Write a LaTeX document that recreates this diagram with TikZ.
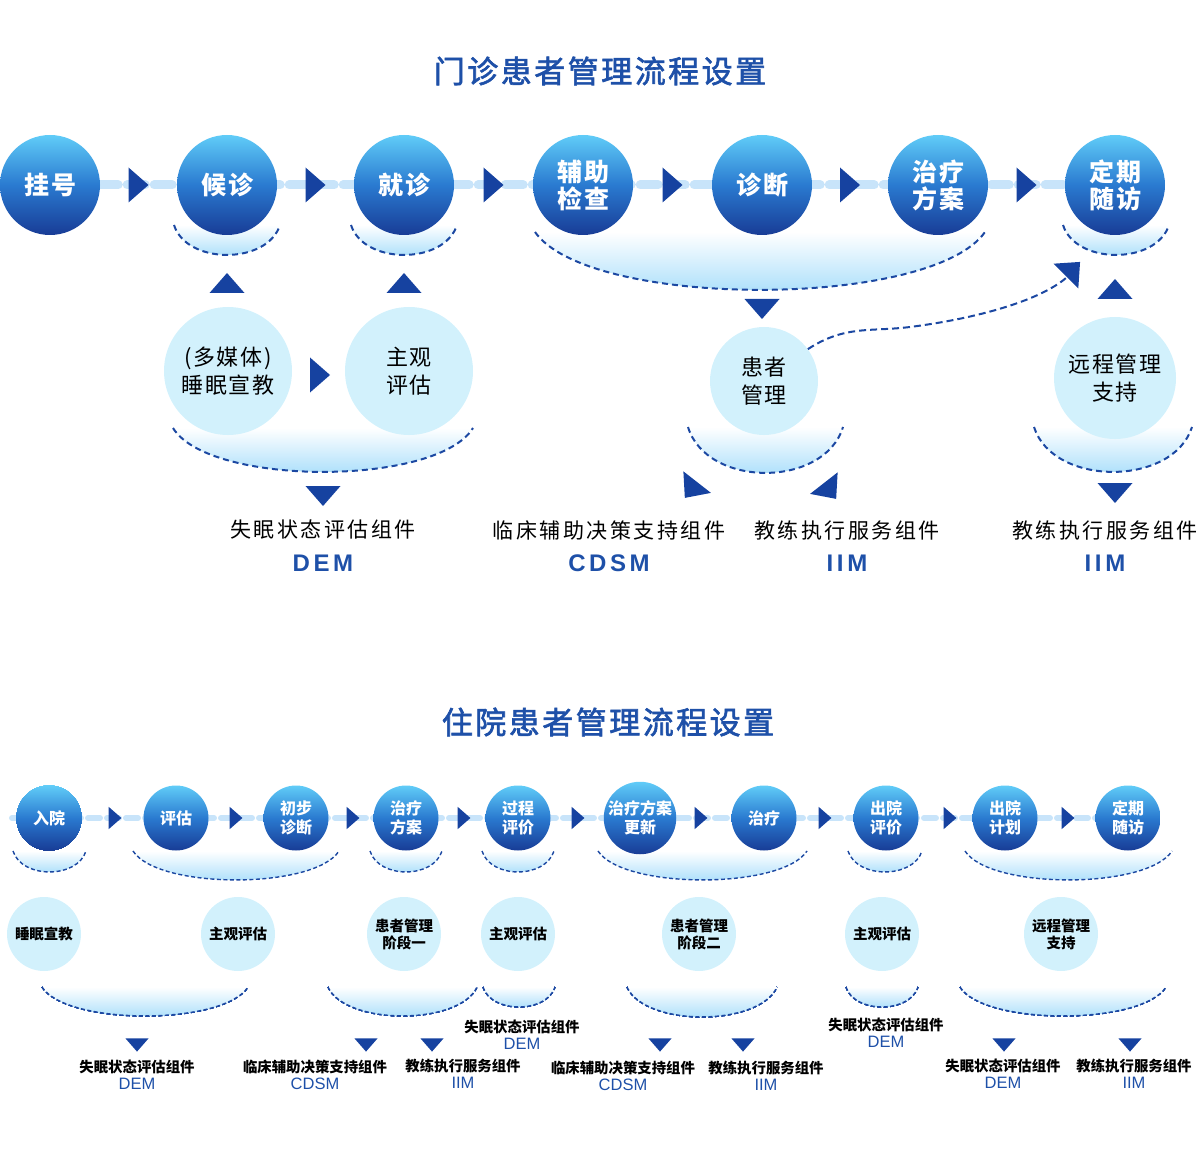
\documentclass[tikz,border=0pt]{standalone}
\usepackage{fontspec}
\setmainfont{Noto Sans CJK SC}
\newfontfamily\latinsans{Liberation Sans}
\usetikzlibrary{calc,backgrounds}
\definecolor{deepblue}{RGB}{22,66,160}
\definecolor{titleblue}{RGB}{30,80,168}
\definecolor{balltop}{RGB}{96,204,248}
\definecolor{ballmid}{RGB}{42,122,208}
\definecolor{ballbot}{RGB}{24,60,150}
\definecolor{palecyan}{RGB}{210,241,252}
\definecolor{bowlblue}{RGB}{150,215,250}
\definecolor{linkblue}{RGB}{200,228,250}
\definecolor{dashblue}{RGB}{28,72,162}
% bowl: [line style]{x left}{x right}{y top}{depth}
\newcommand\bowl[5][bowlline]{%
  \shade[top color=white,bottom color=bowlblue] (#2,#4) .. controls ({#2+0.12*(#3-#2)},{#4+1.33*#5}) and ({#3-0.12*(#3-#2)},{#4+1.33*#5}) .. (#3,#4) -- cycle;
  \draw[#1] (#2,#4) .. controls ({#2+0.12*(#3-#2)},{#4+1.33*#5}) and ({#3-0.12*(#3-#2)},{#4+1.33*#5}) .. (#3,#4);}
\begin{document}
\begin{tikzpicture}[x=1pt,y=-1pt,line cap=butt,line join=miter]
	\tikzset{
		ball/.style={circle,inner sep=0pt,minimum size=100pt,top color=balltop,bottom color=ballbot,middle color=ballmid,text=white,align=center,font=\fontsize{25pt}{27pt}\selectfont\bfseries\addfontfeature{LetterSpace=8}},
		minball/.style={ball,minimum size=65pt,font=\fontsize{16pt}{19pt}\selectfont\bfseries},
		bubble/.style={circle,inner sep=0pt,fill=palecyan,text=black,align=center,font=\fontsize{22pt}{28pt}\selectfont\addfontfeature{LetterSpace=7}},
		minbubble/.style={bubble,minimum size=74pt,font=\fontsize{14.5pt}{17pt}\selectfont\bfseries},
		flowline/.style={linkblue,line width=9pt,line cap=round,dash pattern=on 18pt off 9pt},
		minflow/.style={flowline,line width=6pt,dash pattern=on 12pt off 7pt},
		bowlline/.style={dashblue,line width=2pt,dash pattern=on 6pt off 4pt},
		minbowl/.style={dashblue,line width=1.4pt,dash pattern=on 4pt off 2.5pt},
		linkdash/.style={dashblue,line width=2pt,dash pattern=on 7pt off 4pt},
		comp/.style={font=\fontsize{21pt}{21pt}\selectfont\addfontfeature{LetterSpace=12}},
		compcode/.style={text=titleblue,font=\fontsize{24pt}{24pt}\latinsans\bfseries\addfontfeature{LetterSpace=15}},
		mincomp/.style={font=\fontsize{14.4pt}{14.4pt}\selectfont\bfseries},
		mincode/.style={text=titleblue,font=\fontsize{16.5pt}{16.5pt}\latinsans},
		heading/.style={text=titleblue,font=\fontsize{31pt}{31pt}\selectfont\addfontfeature{FakeBold=2,LetterSpace=8}},
		arrowtri/.pic={\fill[deepblue] (-17.5,-10) -- (17.5,-10) -- (0,10) -- cycle;}
	}
	\useasboundingbox (0,0) rectangle (1200,1174);
	\node[heading] (title1) at (600,71) {门诊患者管理流程设置};
	\node[heading] (title2) at (608,722) {住院患者管理流程设置};
	%--------- 门诊
	\bowl{174}{280}{225}{30}
	\bowl{351}{457}{225}{30}
	\bowl{535}{985}{232}{58}
	\bowl{1063}{1169}{225}{30}
	\bowl{173}{473}{428}{44}
	\bowl{688}{843}{427}{46}
	\bowl{1034}{1192}{427}{45}
	\node[ball] (g1) at (50,185) {挂号};
	\node[ball] (g2) at (227,185) {候诊};
	\node[ball] (g3) at (404,185) {就诊};
	\node[ball] (g4) at (583,185) {辅助\\检查};
	\node[ball] (g5) at (762,185) {诊断};
	\node[ball] (g6) at (938,185) {治疗\\方案};
	\node[ball] (g7) at (1115,185) {定期\\随访};
	\node[bubble,minimum size=128pt] (s1) at (228,371) {(多媒体)\\睡眠宣教};
	\node[bubble,minimum size=128pt] (s2) at (409,371) {主观\\评估};
	\node[bubble,minimum size=108pt] (pm) at (764,381) {患者\\管理};
	\node[bubble,minimum size=122pt] (rm) at (1115,378) {远程管理\\支持};
	\foreach \a/\b in {g1/g2,g2/g3,g3/g4,g4/g5,g5/g6,g6/g7}
		\pic[rotate=90] at ($(\a)!.5!(\b)$) {arrowtri};
	\pic[rotate=90] at (320,375) {arrowtri};
	\pic[rotate=180] at (227,283) {arrowtri};
	\pic[rotate=180] at (404,283) {arrowtri};
	\pic[rotate=180] at (1115,289) {arrowtri};
	\pic at (762,309) {arrowtri};
	\pic at (323,496) {arrowtri};
	\pic at (1115,493) {arrowtri};
	\pic[rotate=-38] at (691,490) {arrowtri};
	\pic[rotate=38] at (830,491) {arrowtri};
	\pic[rotate=135] at (1073,269) {arrowtri};
	\coordinate (fu) at (1066,278);
	\draw[linkdash] (pm.36) .. controls (845,325) and (870,332) .. (910,327) .. controls (980,318) and (1040,300) .. (fu);
	\foreach \n/\x/\t/\c in {1/323/失眠状态评估组件/DEM,2/609/临床辅助决策支持组件/CDSM,3/847/教练执行服务组件/IIM,4/1105/教练执行服务组件/IIM}{
		\node[comp] (lab\n) at (\x,530) {\t};
		\node[compcode] (code\n) at (\x,563) {\c};
	}
	%--------- 住院
	\foreach \l/\r/\d in {13/86/21,133/339/29,370/442/21,482/554/21,598/807/29,848/922/21,965/1172/29}
		\bowl[minbowl]{\l}{\r}{851}{\d}
	\foreach \l/\r/\d in {42/248/29,328/477/29,483/555/20,627/777/30,846/918/20,960/1166/29}
		\bowl[minbowl]{\l}{\r}{987}{\d}
	\node[minball] (h1) at (49,818) {入院};
	\node[minball] (h2) at (176,818) {评估};
	\node[minball] (h3) at (296,818) {初步\\诊断};
	\node[minball] (h4) at (406,818) {治疗\\方案};
	\node[minball] (h5) at (518,818) {过程\\评价};
	\node[minball] (h6) at (640,818) {治疗方案\\更新};
	\node[minball] (h7) at (764,818) {治疗};
	\node[minball] (h8) at (886,818) {出院\\评价};
	\node[minball] (h9) at (1005,818) {出院\\计划};
	\node[minball] (h10) at (1128,818) {定期\\随访};
	\node[minbubble] (k1) at (44,934) {睡眠宣教};
	\node[minbubble] (k2) at (238,934) {主观评估};
	\node[minbubble] (k3) at (404,934) {患者管理\\阶段一};
	\node[minbubble] (k4) at (518,934) {主观评估};
	\node[minbubble] (k5) at (699,934) {患者管理\\阶段二};
	\node[minbubble] (k6) at (882,934) {主观评估};
	\node[minbubble] (k7) at (1061,934) {远程管理\\支持};
	\foreach \x in {115,236,353,464,578,701,825,950,1068}
		\pic[rotate=90,scale=.64] at (\x,818) {arrowtri};
	\foreach \x in {137,366,432,660,743,1004,1130}
		\pic[scale=.66] at (\x,1045) {arrowtri};
	\foreach \n/\x/\y/\t/\c in {1/137/1067/失眠状态评估组件/DEM,2/315/1067/临床辅助决策支持组件/CDSM,3/463/1066/教练执行服务组件/IIM,4/522/1027/失眠状态评估组件/DEM,5/623/1068/临床辅助决策支持组件/CDSM,6/766/1068/教练执行服务组件/IIM,7/886/1025/失眠状态评估组件/DEM,8/1003/1066/失眠状态评估组件/DEM,9/1134/1066/教练执行服务组件/IIM}{
		\node[mincomp] (blab\n) at (\x,\y) {\t};
		\node[mincode] (bcode\n) at (\x,{\y+17}) {\c};
	}
	\begin{scope}[on background layer]
		\draw[flowline] (g1) -- (g7);
		\draw[minflow] ([xshift=-37pt]h1.center) -- (h10);
	\end{scope}
\end{tikzpicture}
\end{document}
